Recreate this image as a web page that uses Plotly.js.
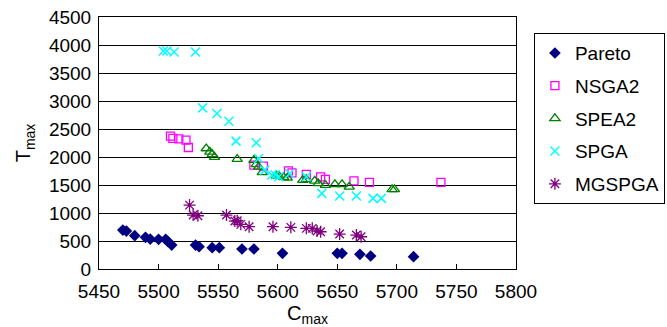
<!DOCTYPE html>
<html>
<head>
<meta charset="utf-8">
<script src="https://cdn.plot.ly/plotly-3.0.1.min.js"></script>
<style>html,body{margin:0;padding:0;background:#fff;}#chart{width:667px;height:327px;}</style>
</head>
<body>
<div id="chart"></div>
<script>
const paretoX = [5470, 5473, 5480, 5489, 5493, 5500, 5506, 5508, 5511, 5531, 5534, 5545, 5551, 5570, 5580, 5604, 5650, 5654, 5669, 5678, 5714];
const paretoY = [695, 678, 595, 565, 535, 530, 530, 487, 428, 428, 398, 380, 380, 357, 357, 280, 280, 280, 262, 232, 220];

const nsga2X = [5510, 5512, 5517, 5523, 5525, 5580, 5588, 5609, 5612, 5624, 5636, 5640, 5664, 5677, 5737];
const nsga2Y = [2372, 2331, 2324, 2300, 2170, 1855, 1837, 1753, 1718, 1689, 1646, 1600, 1575, 1546, 1546];

const spea2X = [5540, 5543, 5545, 5547, 5566, 5580, 5582, 5584, 5587, 5599, 5601, 5605, 5608, 5621, 5624, 5631, 5634, 5640, 5648, 5654, 5660, 5696, 5698];
const spea2Y = [2152, 2092, 2046, 1997, 1962, 1944, 1867, 1825, 1725, 1664, 1659, 1635, 1628, 1587, 1600, 1575, 1528, 1498, 1510, 1510, 1468, 1421, 1421];

const spgaX = [5504, 5507, 5513, 5531, 5537, 5549, 5559, 5565, 5582, 5584, 5589, 5595, 5598, 5601, 5610, 5624, 5637, 5652, 5666, 5680, 5687];
const spgaY = [3893, 3893, 3876, 3876, 2877, 2777, 2640, 2283, 2253, 1974, 1766, 1677, 1677, 1646, 1707, 1646, 1350, 1302, 1302, 1261, 1261];

const mgspgaX = [5526, 5529, 5533, 5557, 5564, 5566, 5569, 5576, 5596, 5611, 5624, 5629, 5633, 5636, 5652, 5666, 5670];
const mgspgaY = [1141, 963, 951, 963, 856, 862, 797, 755, 755, 744, 726, 726, 678, 665, 624, 606, 576];

const xTicks = [5450, 5500, 5550, 5600, 5650, 5700, 5750, 5800];
const yTicks = [0, 500, 1000, 1500, 2000, 2500, 3000, 3500, 4000, 4500];

function tr(name, x, y, marker, g) {
  return {type: 'scatter', mode: 'markers', name: name, x: x, y: y, marker: marker, legendgroup: g, cliponaxis: false};
}

const data = [
  tr('Pareto', paretoX, paretoY, {symbol: 'diamond', size: 9, color: '#000080'}, 'a'),
  tr('NSGA2', nsga2X, nsga2Y, {symbol: 'square-open', size: 8, color: '#ff00ff', line: {width: 1.3, color: '#ff00ff'}}, 'b'),
  tr('SPEA2', spea2X, spea2Y, {symbol: 'triangle-up-open', size: 9, color: '#008000', line: {width: 1.3, color: '#008000'}}, 'c'),
  tr('SPGA', spgaX, spgaY, {symbol: 'x-thin-open', size: 9, color: '#00ffff', line: {width: 1.5, color: '#00ffff'}}, 'd'),
  tr('MGSPGA', mgspgaX, mgspgaY, {symbol: 'asterisk-open', size: 10, color: '#800080', line: {width: 1.3, color: '#800080'}}, 'e')
];

const layout = {
  width: 667, height: 327,
  margin: {l: 99, r: 151, t: 17, b: 58, autoexpand: false},
  paper_bgcolor: '#fff', plot_bgcolor: '#fff',
  font: {family: 'Liberation Sans, Arial, sans-serif', size: 19, color: '#000'},
  showlegend: true,
  xaxis: {
    range: [5450, 5800], tickvals: xTicks, ticktext: xTicks.map(String),
    showgrid: false, zeroline: false, showline: true, linecolor: '#000', linewidth: 1, mirror: true,
    ticks: 'inside', ticklen: 5, tickcolor: '#000', ticklabelstandoff: 5,
    tickfont: {size: 19},
    title: {text: 'C<sub>max</sub>', font: {size: 20}, standoff: 0}
  },
  yaxis: {
    range: [0, 4500], tickvals: yTicks, ticktext: yTicks.map(String),
    showgrid: true, gridcolor: '#000', gridwidth: 1, zeroline: false,
    showline: true, linecolor: '#000', linewidth: 1, mirror: true,
    ticks: '', tickfont: {size: 19}, ticklabelstandoff: 3,
    title: {text: 'T<sub>max</sub>', font: {size: 20}, standoff: 12}
  },
  legend: {
    x: 1.043, xanchor: 'left', y: 0.936, yanchor: 'top',
    bordercolor: '#000', borderwidth: 1, bgcolor: '#fff',
    font: {size: 19}, tracegroupgap: 5, itemwidth: 30
  }
};

Plotly.newPlot('chart', data, layout, {displayModeBar: false, staticPlot: true});
</script>
</body>
</html>
